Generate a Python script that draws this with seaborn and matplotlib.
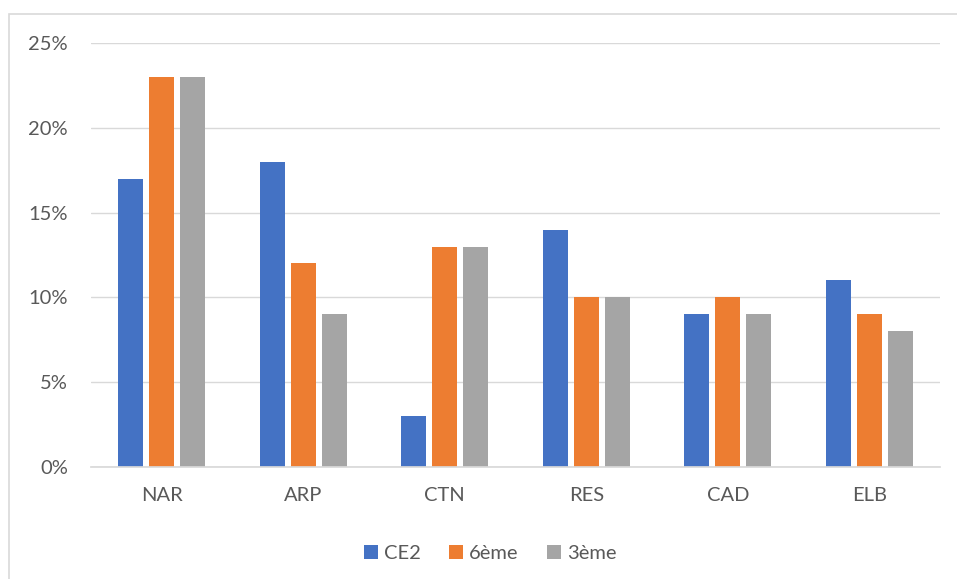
import matplotlib
matplotlib.use("Agg")
import matplotlib.pyplot as plt
import seaborn as sns
import pandas as pd
from matplotlib.patches import Rectangle
from matplotlib.ticker import PercentFormatter

categories = ["NAR", "ARP", "CTN", "RES", "CAD", "ELB"]
series = ["CE2", "6ème", "3ème"]
ce2 = [17, 18, 3, 14, 9, 11]
sixieme = [23, 12, 13, 10, 10, 9]
troisieme = [23, 9, 13, 10, 9, 8]
colors = ["#4472C4", "#ED7D31", "#A5A5A5"]

rows = []
for name, vals in zip(series, [ce2, sixieme, troisieme]):
    for c, v in zip(categories, vals):
        rows.append({"cat": c, "serie": name, "val": v})
df = pd.DataFrame(rows)

sns.set_theme(style="white")
plt.rcParams["font.family"] = ["Lato", "DejaVu Sans"]

fig = plt.figure(figsize=(9.57, 5.79), dpi=100)
ax = fig.add_axes([91/957, 1-467/579, (940-91)/957, (467-43)/579])

sns.barplot(data=df, x="cat", y="val", hue="serie", palette=colors,
            width=0.657, gap=0.19, ax=ax, saturation=1, legend=True,
            linewidth=0, edgecolor="none")

ax.set_ylim(0, 25)
ax.set_yticks([0, 5, 10, 15, 20, 25])
ax.yaxis.set_major_formatter(PercentFormatter(decimals=0))
ax.grid(axis="y", color="#D9D9D9", linewidth=1)
ax.set_axisbelow(True)
for s in ["top", "right", "left"]:
    ax.spines[s].set_visible(False)
ax.spines["bottom"].set_color("#D9D9D9")
ax.set_xlabel("")
ax.set_ylabel("")
ax.tick_params(axis="both", length=0, labelsize=14.5, colors="#595959")
ax.tick_params(axis="y", pad=16.5)
ax.tick_params(axis="x", pad=14.5)

ax.legend(loc="center", bbox_to_anchor=(0.5 - 0.5*(91+940-980)/849, -0.205),
          ncol=3, frameon=False, fontsize=14.5, labelcolor="#595959",
          handlelength=0.7, handleheight=0.7, handletextpad=0.3, columnspacing=1.4)

fig.patches.append(Rectangle((9/957, -0.1), 1.2, 1 - 14/579 + 0.1, transform=fig.transFigure,
                             fill=False, edgecolor="#D9D9D9", linewidth=1.2))

fig.savefig("out.png", dpi=100)
